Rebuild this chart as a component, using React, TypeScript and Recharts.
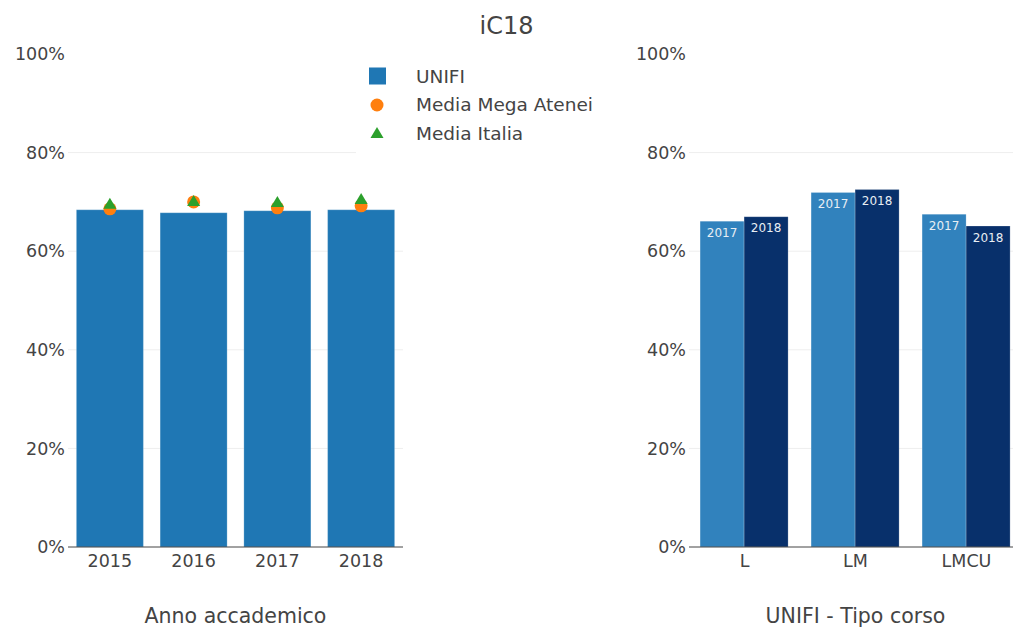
import { Bar, BarChart, CartesianGrid, ComposedChart, LabelList, Legend, Scatter, XAxis, YAxis } from "recharts";

// valori (percentuali)
const anni = ["2015", "2016", "2017", "2018"];
const unifi = [68.4, 67.8, 68.2, 68.4];
const megaAtenei = [68.6, 70.0, 68.8, 69.2];
const mediaItalia = [69.6, 70.2, 70.0, 70.6];

const tipiCorso = ["L", "LM", "LMCU"];
const unifi2017 = [66.1, 71.9, 67.5];
const unifi2018 = [67.0, 72.5, 65.1];

const yTicks = [0, 20, 40, 60, 80, 100];
const gridValues = [20, 40, 60, 80];

const serieNomi = ["UNIFI", "Media Mega Atenei", "Media Italia"];

const dataAnni = anni.map((anno, i) => ({
  anno,
  UNIFI: unifi[i],
  mega: megaAtenei[i],
  italia: mediaItalia[i],
}));

const dataTipi = tipiCorso.map((tipo, i) => ({
  tipo,
  y2017: unifi2017[i],
  y2018: unifi2018[i],
}));

const FONT = "'DejaVu Sans', Verdana, sans-serif";
const TEXT = "#444";

const Circle = (props: any) => <circle cx={props.cx} cy={props.cy} r={6.5} fill="#ff7f0e" />;

const Triangle = (props: any) => {
  const { cx, cy } = props;
  return <path d={`M${cx},${cy - 6} L${cx + 6.5},${cy + 5} L${cx - 6.5},${cy + 5} Z`} fill="#2ca02c" />;
};

// legenda nell'ordine delle serie (recharts la ordina per nome)
const LegendContent = () => (
  <div style={{ background: "#fff", padding: "6px 0 8px 0", fontFamily: FONT }}>
    {serieNomi.map((nome, i) => (
      <div key={nome} style={{ display: "flex", alignItems: "center", height: 28.5 }}>
        <svg width={40} height={20} style={{ flex: "none" }}>
          {i === 0 && <rect x={13} y={1.5} width={17} height={17} fill="#1f77b4" />}
          {i === 1 && <circle cx={21} cy={10} r={6.5} fill="#ff7f0e" />}
          {i === 2 && <path d="M21,4 L27.5,15 L14.5,15 Z" fill="#2ca02c" />}
        </svg>
        <span style={{ fontSize: 18.5, color: TEXT, marginLeft: 20 }}>{nome}</span>
      </div>
    ))}
  </div>
);

export default function App() {
  return (
    <div
      style={{
        position: "absolute",
        left: 0,
        top: 0,
        width: 1013,
        height: 627,
        overflow: "hidden",
        background: "#fff",
        fontFamily: FONT,
      }}
    >
      <div style={{ position: "absolute", left: 0, top: 12, width: 1013, textAlign: "center", fontSize: 24, color: TEXT }}>
        iC18
      </div>

      <div style={{ position: "absolute", left: 0, top: 0 }}>
        <ComposedChart
          width={620}
          height={627}
          data={dataAnni}
          margin={{ top: 54, right: 217, bottom: 0, left: 0 }}
          barCategoryGap="10%"
        >
          <CartesianGrid horizontal vertical={false} horizontalValues={gridValues} stroke="#eee" />
          <XAxis
            dataKey="anno"
            height={80}
            axisLine={{ stroke: TEXT }}
            tickLine={false}
            tick={{ fill: TEXT, fontSize: 17.5, fontFamily: FONT }}
          />
          <YAxis
            width={68}
            domain={[0, 100]}
            ticks={yTicks}
            tickFormatter={(v) => `${v}%`}
            axisLine={false}
            tickLine={false}
            tickSize={0}
            tickMargin={3}
            tick={{ fill: TEXT, fontSize: 17.5, fontFamily: FONT }}
          />
          <Legend
            layout="vertical"
            align="center"
            verticalAlign="middle"
            content={<LegendContent />}
            wrapperStyle={{ left: 356, top: 56, width: 255 }}
          />
          <Bar dataKey="UNIFI" name={serieNomi[0]} fill="#1f77b4" stroke="#ffffff" strokeOpacity={0.4} strokeWidth={0.5} isAnimationActive={false} />
          <Scatter dataKey="mega" name={serieNomi[1]} fill="#ff7f0e" shape={Circle} isAnimationActive={false} />
          <Scatter dataKey="italia" name={serieNomi[2]} fill="#2ca02c" shape={Triangle} isAnimationActive={false} />
        </ComposedChart>
      </div>

      <div style={{ position: "absolute", left: 621, top: 0 }}>
        <BarChart
          width={419}
          height={627}
          data={dataTipi}
          margin={{ top: 54, right: 18, bottom: 0, left: 0 }}
          barCategoryGap="10%"
          barGap={0}
        >
          <CartesianGrid horizontal vertical={false} horizontalValues={gridValues} stroke="#eee" />
          <XAxis
            dataKey="tipo"
            height={80}
            axisLine={{ stroke: TEXT }}
            tickLine={false}
            tick={{ fill: TEXT, fontSize: 17.5, fontFamily: FONT }}
          />
          <YAxis
            width={68}
            domain={[0, 100]}
            ticks={yTicks}
            tickFormatter={(v) => `${v}%`}
            axisLine={false}
            tickLine={false}
            tickSize={0}
            tickMargin={3}
            tick={{ fill: TEXT, fontSize: 17.5, fontFamily: FONT }}
          />
          <Bar dataKey="y2017" name="2017" fill="#3182bd" stroke="#ffffff" strokeOpacity={0.4} strokeWidth={0.5} isAnimationActive={false}>
            <LabelList position="insideTop" offset={7} formatter={() => "2017"} fill="#e8eef4" fontSize={12} fontFamily={FONT} />
          </Bar>
          <Bar dataKey="y2018" name="2018" fill="#08306b" stroke="#ffffff" strokeOpacity={0.4} strokeWidth={0.5} isAnimationActive={false}>
            <LabelList position="insideTop" offset={7} formatter={() => "2018"} fill="#e8eef4" fontSize={12} fontFamily={FONT} />
          </Bar>
        </BarChart>
      </div>

      <div style={{ position: "absolute", left: 0, top: 604, width: 471, textAlign: "center", fontSize: 20.5, color: TEXT }}>
        Anno accademico
      </div>
      <div style={{ position: "absolute", left: 689, top: 604, width: 333, textAlign: "center", fontSize: 20.5, color: TEXT }}>
        UNIFI - Tipo corso
      </div>
    </div>
  );
}
